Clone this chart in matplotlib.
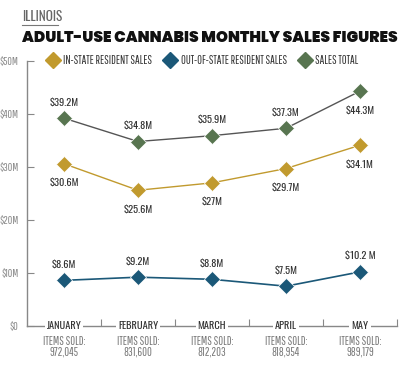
import matplotlib.pyplot as plt
from matplotlib.lines import Line2D

months = ['JANUARY', 'FEBRUARY', 'MARCH', 'APRIL', 'MAY']
items_sold = ['972,045', '831,600', '812,203', '818,954', '989,179']
in_state = [30.6, 25.6, 27.0, 29.7, 34.1]
out_state = [8.6, 9.2, 8.8, 7.5, 10.2]
total = [39.2, 34.8, 35.9, 37.3, 44.3]
in_labels = ['$30.6M', '$25.6M', '$27M', '$29.7M', '$34.1M']
out_labels = ['$8.6M', '$9.2M', '$8.8M', '$7.5M', '$10.2 M']
total_labels = ['$39.2M', '$34.8M', '$35.9M', '$37.3M', '$44.3M']

GOLD = '#c19a2e'
BLUE = '#1b5878'
GREEN = '#587550'
LIGHT = ['Pathway Gothic One', 'Roboto Condensed', 'DejaVu Sans']
BOLD = ['Oswald', 'Roboto Condensed', 'DejaVu Sans']
HEAVY = ['Poppins', 'DejaVu Sans']

fig = plt.figure(figsize=(4.0, 3.65), dpi=100)
ax = fig.add_axes([0.0675, 0.107, 0.925, 0.726])

x = list(range(len(months)))
mk = dict(marker='D', ms=8.5, mec='white', mew=0.5, zorder=3)
ax.plot(x, total, color='#555555', lw=1, mfc=GREEN, **mk)
ax.plot(x, in_state, color=GOLD, lw=1, mfc=GOLD, **mk)
ax.plot(x, out_state, color=BLUE, lw=1.2, mfc=BLUE, **mk)

lab = dict(ha='center', fontsize=7.5, color='#333333', family=BOLD)
for i in x:
    if i == 4:
        ax.annotate(total_labels[i], (i, total[i]), xytext=(0, -10), textcoords='offset points', va='top', **lab)
    else:
        ax.annotate(total_labels[i], (i, total[i]), xytext=(0, 8), textcoords='offset points', va='bottom', **lab)
    ax.annotate(in_labels[i], (i, in_state[i]), xytext=(0, -10), textcoords='offset points', va='top', **lab)
    ax.annotate(out_labels[i], (i, out_state[i]), xytext=(0, 8), textcoords='offset points', va='bottom', **lab)

ax.set_xlim(-0.5, 4.5)
ax.set_ylim(0, 50)
ax.set_yticks([0, 10, 20, 30, 40, 50])
ax.set_yticklabels(['$0', '$10M', '$20M', '$30M', '$40M', '$50M'], family=LIGHT, fontsize=8, color='#888888')
ax.tick_params(axis='y', direction='in', length=5, color='#888888', pad=6)
ax.set_xticks([0.5, 1.5, 2.5, 3.5, 4.5])
ax.set_xticklabels([])
ax.tick_params(axis='x', direction='in', length=5, color='#888888')
for s in ['top', 'right']:
    ax.spines[s].set_visible(False)
for s in ['left', 'bottom']:
    ax.spines[s].set_color('#888888')
    ax.spines[s].set_linewidth(1)

for i, m in enumerate(months):
    ax.text(i, 0, m, ha='center', va='center', fontsize=7.5, color='#333333', family=BOLD,
            bbox=dict(facecolor='white', edgecolor='none', pad=1.5), clip_on=False)
    ax.annotate('ITEMS SOLD:\n' + items_sold[i], (i, 0), xytext=(0, -7), textcoords='offset points',
                ha='center', va='top', fontsize=8.5, color='#777777', family=LIGHT, linespacing=1.0)

handles = [Line2D([], [], ls='none', marker='D', ms=8.5, color=c) for c in (GOLD, BLUE, GREEN)]
ax.legend(handles, ['IN-STATE RESIDENT SALES', 'OUT-OF-STATE RESIDENT SALES', 'SALES TOTAL'],
          loc='center left', bbox_to_anchor=(0.025, 1.0), ncol=3, frameon=False, handletextpad=0.4,
          columnspacing=1.0, handlelength=1.0, prop={'family': LIGHT, 'size': 8.5}, labelcolor='#333333')

fig.text(0.055, 0.955, 'ILLINOIS', fontsize=9.5, color='#666666', family=BOLD, va='center')
fig.add_artist(Line2D([0.055, 0.145], [0.932, 0.932], color='#777777', lw=0.8))
title = fig.text(0.055, 0.896, 'ADULT-USE CANNABIS MONTHLY SALES FIGURES', fontsize=11, fontweight='black',
                 color='#111111', family=HEAVY, va='center')

# fit the title across the chart width
r = fig.canvas.get_renderer()
w = title.get_window_extent(r).width
title.set_fontsize(11 * 375 / w)

fig.savefig('out.png', dpi=100)
